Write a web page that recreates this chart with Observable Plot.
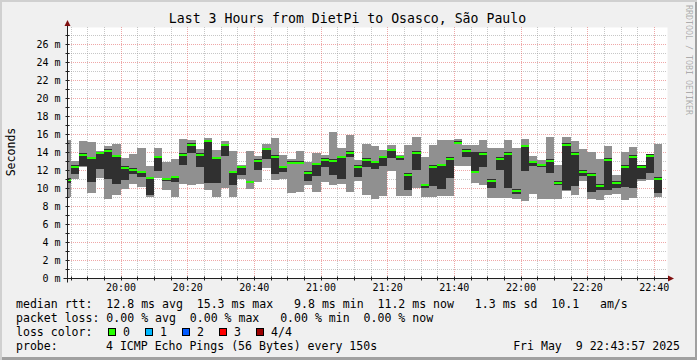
<!DOCTYPE html>
<html><head><meta charset="utf-8">
<script src="https://cdn.jsdelivr.net/npm/d3@7"></script>
<script src="https://cdn.jsdelivr.net/npm/@observablehq/plot@0.6"></script>
<style>
html,body{margin:0;padding:0;background:#f0f0f0;}
#wrap{position:relative;width:697px;height:360px;background:#f0f0f0;overflow:hidden;font-family:"DejaVu Sans Mono",monospace;color:#000;}
#wrap svg{position:absolute;left:0;top:0;}
.t{position:absolute;white-space:pre;line-height:14px;font-size:11.55px;}
.sq{position:absolute;width:6px;height:6px;border:1px solid #000;}
.edge{position:absolute;}
</style></head><body><div id="wrap"></div>
<script>
// ---- data (milliseconds) ----
const startTime = "2025-05-09T19:43:57Z";
const endTime   = "2025-05-09T22:43:57Z";
const firstStepStart = "2025-05-09T19:42:30Z";
const stepSeconds = 150;

const maxRtt = [15.37,13.0,15.26,15.11,14.15,14.71,14.93,13.33,13.74,14.5,12.4,14.41,12.9,13.2,15.48,15.37,14.37,15.6,14.26,15.26,14.15,12.55,14.15,13.6,14.93,15.6,13.7,13.2,14.15,12.9,13.85,13.7,16.18,14.5,15.85,13.15,14.93,14.71,14.26,14.81,13.65,14.75,15.7,13.44,14.75,15.3,15.3,15.48,14.75,14.8,15.37,14.5,14.44,15.37,14.44,15.48,13.52,13.15,15.63,12.6,15.63,15.19,14.37,14.0,13.26,14.71,11.5,13.96,14.52,12.6,13.81,14.93];
const medianRtt = [11.1,12.55,13.89,13.5,14.03,14.33,13.7,12.4,12.2,11.93,11.28,13.6,11.15,11.38,13.85,15.0,13.85,15.35,13.5,14.93,11.9,12.48,10.8,13.22,14.46,13.63,12.48,13.0,13.0,11.85,12.8,13.3,13.18,13.6,14.07,12.52,13.3,13.04,13.6,14.35,13.59,11.63,14.07,10.5,12.52,12.72,13.41,15.2,14.33,11.9,14.0,11.0,13.41,14.0,9.85,14.8,13.04,12.7,13.22,10.74,15.0,14.0,12.0,11.63,10.41,13.33,10.74,12.55,13.63,12.55,13.78,11.2];
const upperRtt = [11.1,12.55,13.89,13.5,14.03,14.33,13.7,12.4,12.2,11.93,11.28,13.6,11.15,11.38,13.85,15.0,13.85,15.35,13.5,14.93,11.9,12.48,10.8,13.22,14.46,13.63,12.48,13.0,13.0,11.85,12.8,13.3,13.18,13.6,14.07,12.52,13.3,13.04,13.6,14.35,13.59,11.63,14.07,10.5,12.52,12.72,13.41,15.2,14.33,14.0,14.0,11.0,13.41,14.0,9.85,14.8,13.04,12.7,13.22,10.74,15.0,14.0,12.0,11.63,10.41,13.33,10.74,12.55,13.63,12.55,13.78,11.2];
const lowerRtt = [10.56,11.6,12.45,10.7,12.15,11.05,10.4,10.9,11.6,11.2,9.26,11.9,10.8,10.7,12.6,13.9,12.3,10.6,10.55,13.52,10.37,11.5,10.55,12.0,13.2,11.6,11.75,12.7,12.7,10.8,11.3,12.3,11.45,11.0,13.4,11.22,12.35,12.15,12.41,13.33,13.07,9.74,12.04,10.0,10.19,9.9,11.1,14.9,13.5,11.9,12.3,10.0,12.04,10.0,9.3,11.93,12.41,12.35,11.67,10.3,9.74,10.19,11.3,9.52,9.74,9.74,10.0,10.11,10.0,11.0,11.67,9.4];
const minRtt = [9.0,11.0,12.3,9.44,11.15,8.83,9.26,9.85,10.5,10.1,8.96,11.1,9.8,8.97,10.5,10.35,10.42,9.76,8.98,9.95,8.98,11.0,9.85,10.62,12.2,10.9,11.05,9.44,9.6,10.3,9.6,10.65,10.35,10.4,9.52,10.74,9.26,8.81,9.07,11.85,9.07,9.07,10.0,9.0,8.96,9.07,9.07,12.4,12.4,10.6,10.37,8.89,8.89,8.89,8.81,8.59,9.37,8.81,8.81,8.81,9.63,9.26,10.74,8.81,8.7,9.26,9.37,8.7,8.89,10.74,10.85,8.96];

const yTicks = [0,2,4,6,8,10,12,14,16,18,20,22,24,26];
const xTickLabels = ["20:00","20:20","20:40","21:00","21:20","21:40","22:00","22:20","22:40"];

const lossLabels = ["0","1","2","3","4/4"];
const lossColors = ["#26ff00","#00b8ff","#0059ff","#ff0000","#9b0000"];

const titleText = "Last 3 Hours from DietPi to Osasco, São Paulo";
const legendLines = [
  "median rtt:  12.8 ms avg  15.3 ms max   9.8 ms min  11.2 ms now   1.3 ms sd  10.1   am/s",
  "packet loss: 0.00 % avg  0.00 % max   0.00 % min  0.00 % now"
];
const probeText = "4 ICMP Echo Pings (56 Bytes) every 150s";
const dateText = "Fri May  9 22:43:57 2025";

// ---- build table ----
const t0 = new Date(firstStepStart).getTime();
const rows = maxRtt.map((mx, i) => ({
  t1: new Date(t0 + i * stepSeconds * 1000),
  t2: new Date(t0 + (i + 1) * stepSeconds * 1000),
  max: mx, upper: upperRtt[i], lower: lowerRtt[i], min: minRtt[i], median: medianRtt[i]
}));
const x0 = new Date(startTime), x1 = new Date(endTime);
const majorX = xTickLabels.map(l => new Date(`2025-05-09T${l}:00Z`));
const allMinX = d3.utcMinute.every(5).range(x0, x1);
const minorX = allMinX.filter(d => d.getUTCMinutes() % 20 !== 0);
const majorY = yTicks.filter(v => v > 0);
const minorY = d3.range(1, 28, 2);

const plot = Plot.plot({
  width: 697, height: 360,
  marginLeft: 67, marginRight: 30, marginTop: 27, marginBottom: 82,
  style: {background: "transparent", fontFamily: "DejaVu Sans Mono", fontSize: "10px", color: "#000", overflow: "visible"},
  x: {type: "utc", domain: [x0, x1]},
  y: {domain: [0, 27.9]},
  marks: [
    Plot.frame({fill: "#ffffff", stroke: "none"}),
    Plot.ruleY(minorY, {stroke: "#909090", strokeOpacity: 0.5, strokeDasharray: "1,1", shapeRendering: "crispEdges"}),
    Plot.ruleX(minorX, {stroke: "#909090", strokeOpacity: 0.5, strokeDasharray: "1,1", shapeRendering: "crispEdges"}),
    Plot.ruleY(majorY, {stroke: "#e05050", strokeOpacity: 0.5, strokeDasharray: "1,1", shapeRendering: "crispEdges"}),
    Plot.ruleX(majorX, {stroke: "#e05050", strokeOpacity: 0.5, strokeDasharray: "1,1", shapeRendering: "crispEdges"}),
    Plot.rect(rows, {x1: "t1", x2: "t2", y1: "min", y2: "max", fill: "#909090", clip: true, shapeRendering: "crispEdges"}),
    Plot.rect(rows, {x1: "t1", x2: "t2", y1: "lower", y2: "upper", fill: "#303030", clip: true, shapeRendering: "crispEdges"}),
    Plot.ruleY(rows, {x1: "t1", x2: "t2", y: "median", dy: 1, stroke: lossColors[0], strokeWidth: 2, clip: true, shapeRendering: "crispEdges"}),
    Plot.axisY({ticks: yTicks, tickFormat: d => `${d} m`, tickSize: 0, tickPadding: 7, label: null, fontSize: 10}),
    Plot.axisX({ticks: majorX, tickFormat: d3.utcFormat("%H:%M"), tickSize: 0, tickPadding: 5, label: null, fontSize: 10})
  ]
});

const wrap = document.getElementById("wrap");
wrap.appendChild(plot);

// axes lines and arrows using the plot's scales
const sx = plot.scale("x"), sy = plot.scale("y");
const X0 = Math.round(sx.apply(x0)) + 0.5;
const XR = sx.range[1];
const Y0 = Math.round(sy.apply(0)) + 0.5;
const YT = sy.range[1];
const svg = d3.select(plot);
const g = svg.append("g");
g.selectAll(".mx").data(allMinX).join("line")
  .attr("x1", d => Math.round(sx.apply(d)) + 0.5).attr("x2", d => Math.round(sx.apply(d)) + 0.5)
  .attr("y1", Y0 - 2).attr("y2", Y0 + 2).attr("stroke", "#202020");
g.selectAll(".my").data(d3.range(1, 28)).join("line")
  .attr("y1", d => Math.round(sy.apply(d)) + 0.5).attr("y2", d => Math.round(sy.apply(d)) + 0.5)
  .attr("x1", X0 - 2).attr("x2", X0 + 2).attr("stroke", "#202020");
g.append("line").attr("x1", X0 - 4).attr("x2", XR + 1).attr("y1", Y0).attr("y2", Y0).attr("stroke", "#202020");
g.append("line").attr("x1", X0).attr("x2", X0).attr("y1", Y0 + 4).attr("y2", YT - 1).attr("stroke", "#202020");
g.append("path").attr("d", `M${XR + 1},${Y0 - 3}L${XR + 7},${Y0}L${XR + 1},${Y0 + 3}Z`).attr("fill", "#801010");
g.append("path").attr("d", `M${X0 - 3},${YT - 1}L${X0},${YT - 7}L${X0 + 3},${YT - 1}Z`).attr("fill", "#801010");

function addDiv(cls, text, css) {
  const d = document.createElement("div");
  d.className = cls; d.textContent = text; Object.assign(d.style, css); wrap.appendChild(d); return d;
}
addDiv("t", titleText, {left: "0px", width: "695px", textAlign: "center", top: "11px", fontSize: "13.2px", lineHeight: "16px"});
addDiv("t", "Seconds", {left: "11px", top: "152px", transform: "translate(-50%,-50%) rotate(-90deg)"});
addDiv("t", "RRDTOOL / TOBI OETIKER", {left: "684px", top: "5px", writingMode: "vertical-rl", fontSize: "8.3px", lineHeight: "9px", color: "rgba(0,0,0,0.3)"});
addDiv("t", legendLines[0], {left: "16px", top: "297px"});
addDiv("t", legendLines[1], {left: "16px", top: "311px"});
addDiv("t", "loss color:", {left: "16px", top: "325px"});
lossLabels.forEach((lab, i) => {
  const bx = 108 + i * 37;
  addDiv("sq", "", {left: bx + "px", top: "328px", background: lossColors[i]});
  addDiv("t", lab, {left: (bx + 15) + "px", top: "325px"});
});
addDiv("t", "probe:", {left: "16px", top: "339px"});
addDiv("t", probeText, {left: "106px", top: "339px"});
addDiv("t", dateText, {right: "17px", top: "339px"});

addDiv("edge", "", {left: "0px", top: "0px", width: "697px", height: "2px", background: "#d0d0d0"});
addDiv("edge", "", {left: "0px", top: "0px", width: "2px", height: "360px", background: "#d0d0d0"});
addDiv("edge", "", {left: "695px", top: "2px", width: "2px", height: "358px", background: "#a0a0a0"});
addDiv("edge", "", {left: "2px", top: "357px", width: "695px", height: "3px", background: "#a0a0a0"});
</script></body></html>
